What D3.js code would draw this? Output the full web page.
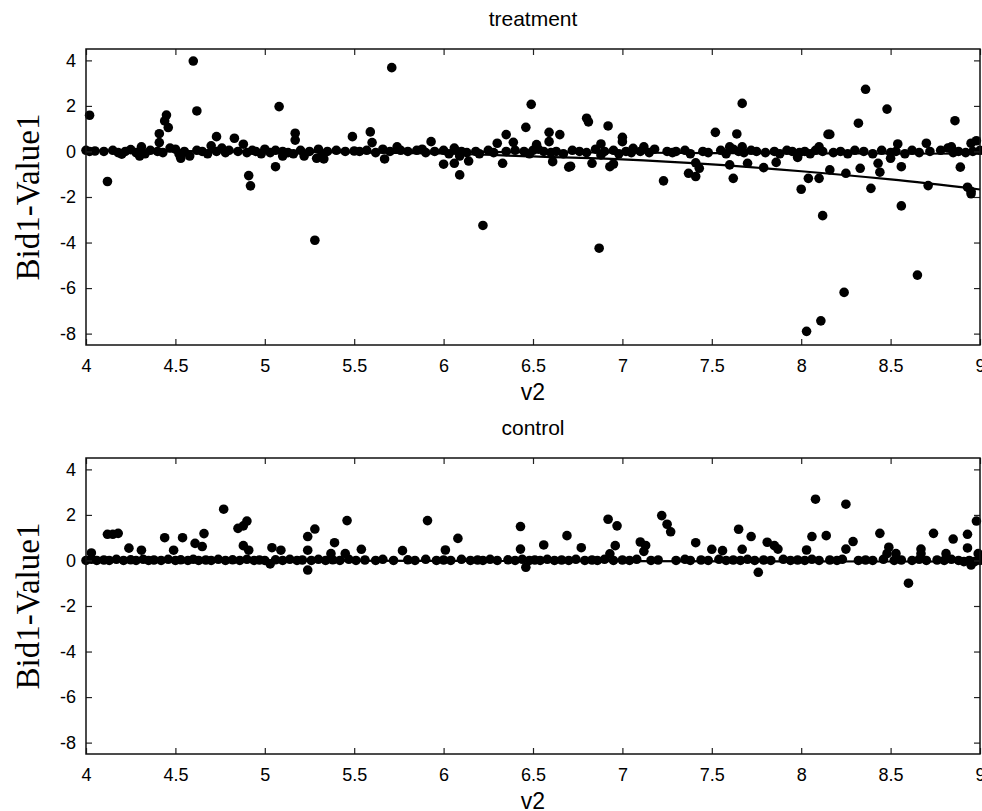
<!DOCTYPE html>
<html>
<head>
<meta charset="utf-8">
<script src="https://cdn.jsdelivr.net/npm/d3@7"></script>
<style>
  html, body { margin: 0; padding: 0; background: #fff; }
  svg { display: block; }
</style>
</head>
<body>
<div id="root"></div>
<script>
// tick values
const xTicks = [4, 4.5, 5, 5.5, 6, 6.5, 7, 7.5, 8, 8.5, 9];
const yTicks = [4, 2, 0, -2, -4, -6, -8];

// treatment: points near zero line
const treatZero = [
  [4.0,0.05],[4.02,0.0],[4.05,0.02],[4.1,0.0],[4.15,0.05],[4.18,-0.05],[4.2,-0.12],[4.22,0.0],
  [4.25,0.08],[4.28,-0.05],[4.31,0.2],[4.33,-0.1],[4.36,0.05],[4.4,0.0],[4.43,-0.05],[4.47,0.15],
  [4.5,0.1],[4.52,-0.1],[4.55,0.0],[4.58,-0.2],[4.62,0.05],[4.65,0.0],[4.68,-0.1],[4.7,0.25],
  [4.73,0.0],[4.76,0.15],[4.78,-0.05],[4.8,0.05],[4.85,0.0],[4.9,-0.05],[4.93,0.05],[4.95,0.0],
  [4.98,-0.1],[5.0,0.1],[5.03,-0.05],[5.06,0.05],[5.1,0.0],[5.13,-0.05],[5.16,-0.1],[5.2,0.05],
  [5.22,-0.2],[5.25,0.0],[5.3,0.1],[5.32,-0.15],[5.35,0.0],[5.4,0.05],[5.45,0.0],[5.5,0.02],
  [5.53,0.0],[5.57,0.05],[5.62,-0.05],[5.66,0.1],[5.7,0.0],[5.76,0.05],[5.8,0.0],[5.85,0.05],
  [5.9,-0.05],[5.95,0.0],[6.0,0.05],[6.03,-0.1],[6.1,0.0],[6.13,-0.05],[6.18,0.0],[6.2,-0.1],
  [6.25,0.05],[6.28,-0.05],[6.35,0.0],[6.4,0.05],[6.45,0.0],[6.48,-0.1],[6.5,0.05],[6.53,0.1],
  [6.56,0.0],[6.6,-0.05],[6.63,0.0],[6.67,-0.1],[6.72,0.05],[6.76,0.0],[6.8,-0.05],[6.85,0.1],
  [6.88,-0.15],[6.9,0.0],[6.95,0.05],[6.98,-0.1],[7.02,0.0],[7.05,-0.05],[7.1,0.0],[7.15,-0.05],
  [7.18,0.1],[7.25,0.0],[7.28,-0.05],[7.3,0.0],[7.35,0.05],[7.38,-0.1],[7.45,0.0],[7.48,-0.05],
  [7.55,0.05],[7.58,-0.1],[7.62,0.1],[7.65,0.0],[7.68,-0.05],[7.72,0.05],[7.75,0.0],[7.8,-0.05],
  [7.85,0.0],[7.88,-0.1],[7.92,0.05],[7.95,0.0],[7.99,-0.05],[8.02,0.0],[8.05,-0.1],[8.08,0.05],
  [8.12,0.0],[8.18,-0.05],[8.22,0.0],[8.26,-0.1],[8.3,0.05],[8.35,0.0],[8.4,-0.1],[8.45,0.05],
  [8.5,-0.05],[8.53,0.0],[8.58,-0.1],[8.62,0.05],[8.66,-0.05],[8.72,0.0],[8.78,0.05],[8.82,0.15],
  [8.85,-0.05],[8.88,0.0],[8.92,-0.05],[8.96,0.0],[9.0,0.05]
];

// treatment: scattered points
const treatSpread = [
  [4.60,3.97],[4.02,1.59],[4.62,1.78],[5.08,1.97],[4.45,1.6],[4.44,1.34],[4.46,1.05],[4.41,0.78],
  [4.41,0.39],[4.12,-1.32],[4.73,0.65],[4.83,0.58],[4.88,0.32],[4.91,-1.06],[4.92,-1.51],[5.06,-0.67],
  [5.17,0.8],[5.17,0.5],[5.49,0.65],[5.59,0.86],[5.60,0.39],[5.28,-3.9],[4.53,-0.3],[5.33,-0.33],
  [5.29,-0.3],[5.10,-0.2],[4.30,-0.2],
  [5.71,3.68],[6.49,2.07],[6.80,1.46],[6.81,1.3],[6.92,1.12],[6.46,1.06],[6.35,0.74],[6.39,0.4],
  [6.59,0.84],[6.59,0.43],[6.65,0.74],[7.0,0.62],[7.0,0.43],[6.88,0.33],[5.93,0.43],[6.30,0.36],
  [6.52,0.3],[7.06,0.14],[7.12,0.2],[5.67,-0.33],[6.0,-0.56],[6.06,-0.52],[6.14,-0.42],[6.09,-1.03],
  [6.33,-0.52],[6.22,-3.25],[6.61,-0.45],[6.70,-0.69],[6.71,-0.65],[6.83,-0.52],[6.93,-0.67],
  [6.95,-0.55],[7.23,-1.29],[6.09,-0.2],[5.74,0.2],[5.88,0.1],[6.06,0.15],[6.87,-4.25],
  [8.36,2.73],[7.67,2.11],[8.48,1.86],[8.86,1.35],[8.32,1.24],[7.52,0.84],[7.64,0.77],[8.15,0.75],
  [8.16,0.75],[8.54,0.33],[8.70,0.36],[8.98,0.47],[8.95,0.36],[8.84,0.2],[7.6,0.2],[7.67,0.2],
  [8.1,0.2],[7.37,-0.96],[7.41,-1.1],[7.43,-0.74],[7.41,-0.5],[7.60,-0.59],[7.62,-1.18],[7.70,-0.52],
  [7.79,-0.71],[7.86,-0.48],[7.98,-0.26],[8.0,-1.66],[8.04,-1.18],[8.10,-1.18],[8.12,-2.82],
  [8.16,-0.81],[8.25,-0.96],[8.33,-0.74],[8.39,-1.62],[8.43,-0.52],[8.44,-0.91],[8.5,-0.3],
  [8.56,-0.67],[8.56,-2.39],[8.71,-1.5],[8.89,-0.69],[8.93,-1.57],[8.95,-1.86],[8.95,-1.75],
  [8.65,-5.43],[8.24,-6.19],[8.11,-7.44],[8.03,-7.9]
];

// treatment fit lines
const treatFitX = [4, 4.5, 5, 5.5, 6, 6.5, 7, 7.5, 8, 8.5, 9];
const treatFitFlat = [0.03, 0.02, 0.0, -0.01, -0.02, -0.03, -0.05, -0.07, -0.08, -0.09, -0.1];
const treatFitBend = [0.03, 0.01, -0.01, -0.04, -0.09, -0.22, -0.35, -0.57, -0.87, -1.23, -1.67];

// control: points near zero line
const ctrlZero = [
  [4.0,0.0],[4.03,0.05],[4.06,0.0],[4.1,0.02],[4.13,0.0],[4.17,0.05],[4.21,0.0],[4.25,0.03],
  [4.28,0.0],[4.32,0.05],[4.35,0.0],[4.38,0.02],[4.42,0.0],[4.46,0.05],[4.5,0.0],[4.53,0.03],
  [4.57,0.0],[4.6,0.05],[4.63,0.0],[4.67,0.02],[4.7,0.0],[4.74,0.05],[4.78,0.0],[4.82,0.03],
  [4.86,0.0],[4.9,0.05],[4.94,0.0],[4.97,0.02],[5.0,0.0],[5.06,0.03],[5.1,0.0],[5.14,0.05],
  [5.18,0.0],[5.21,0.02],[5.26,0.0],[5.3,0.05],[5.34,0.0],[5.38,0.03],[5.42,0.0],[5.47,0.05],
  [5.51,0.0],[5.56,0.02],[5.62,0.0],[5.66,0.05],[5.72,0.0],[5.8,0.03],[5.84,0.0],[5.9,0.05],
  [5.96,0.0],[6.0,0.02],[6.04,0.0],[6.1,0.05],[6.15,0.0],[6.19,0.02],[6.22,0.0],[6.26,0.05],
  [6.3,0.0],[6.36,0.03],[6.4,0.0],[6.44,0.05],[6.48,0.0],[6.51,0.02],[6.54,0.0],[6.58,0.05],
  [6.62,0.0],[6.66,0.02],[6.7,0.0],[6.74,0.05],[6.79,0.0],[6.83,0.02],[6.86,0.0],[6.9,0.05],
  [6.95,0.0],[7.0,0.02],[7.04,0.0],[7.08,0.05],[7.16,0.0],[7.2,0.02],[7.3,0.0],[7.35,0.05],
  [7.38,0.0],[7.44,0.02],[7.48,0.0],[7.54,0.05],[7.58,0.0],[7.62,0.02],[7.66,0.0],[7.7,0.05],
  [7.74,0.0],[7.79,0.02],[7.83,0.0],[7.9,0.05],[7.94,0.0],[7.98,0.02],[8.02,0.0],[8.06,0.05],
  [8.1,0.0],[8.16,0.02],[8.2,0.0],[8.23,0.05],[8.32,0.0],[8.36,0.02],[8.4,0.0],[8.46,0.05],
  [8.52,0.0],[8.56,0.02],[8.62,0.0],[8.66,0.05],[8.7,0.0],[8.76,0.02],[8.8,0.0],[8.84,0.05],
  [8.88,0.0],[8.91,-0.05],[8.94,0.0],[8.97,-0.05],[9.0,0.0]
];

// control: scattered points
const ctrlSpread = [
  [4.77,2.25],[5.46,1.75],[4.90,1.73],[4.88,1.52],[4.85,1.41],[5.28,1.38],[4.12,1.15],[4.15,1.15],
  [4.18,1.19],[5.24,1.05],[4.66,1.18],[4.44,1.0],[4.54,1.0],[4.61,0.75],[4.65,0.61],[4.88,0.65],
  [4.91,0.45],[5.39,0.78],[5.54,0.49],[4.24,0.54],[4.31,0.45],[4.49,0.45],[5.04,0.56],[5.09,0.45],
  [5.24,0.45],[5.37,0.3],[5.45,0.3],[5.24,-0.42],[5.03,-0.15],[4.03,0.33],
  [5.91,1.75],[6.08,0.97],[6.01,0.46],[6.43,1.49],[6.43,0.5],[6.46,-0.3],[6.56,0.68],[6.69,1.09],
  [6.77,0.56],[6.92,1.81],[6.97,1.52],[6.96,0.65],[6.93,0.29],[7.10,0.81],[7.13,0.66],[7.12,0.4],
  [7.22,1.97],[7.25,1.59],[7.27,1.26],[5.77,0.43],
  [7.41,0.78],[7.50,0.49],[7.56,0.43],[7.65,1.37],[7.72,1.05],[7.67,0.49],[7.81,0.8],[7.85,0.65],
  [7.87,0.5],[7.76,-0.52],[8.03,0.46],[8.06,1.05],[8.08,2.69],[8.14,1.09],[8.25,2.47],[8.29,0.83],
  [8.25,0.5],[8.44,1.19],[8.49,0.58],[8.48,0.3],[8.53,0.3],[8.60,-1.0],[8.67,0.5],[8.67,0.3],
  [8.74,1.19],[8.85,0.94],[8.93,1.15],[8.93,0.55],[8.98,1.73],[8.99,0.3],[8.95,-0.2],[8.81,0.3]
];

// control fit line
const ctrlFitX = [4, 5, 6, 7, 8, 9];
const ctrlFit = [0.0, -0.01, -0.02, -0.03, -0.04, -0.05];

const width = 982;
const height = 811;

const svg = d3.select("#root")
  .append("svg")
  .attr("width", width)
  .attr("height", height)
  .attr("viewBox", `0 0 ${width} ${height}`);

const panels = [
  {
    title: "treatment", top: 49, bottom: 345,
    points: treatZero.concat(treatSpread),
    fits: [treatFitX.map((x, i) => [x, treatFitFlat[i]]), treatFitX.map((x, i) => [x, treatFitBend[i]])]
  },
  {
    title: "control", top: 458, bottom: 754,
    points: ctrlZero.concat(ctrlSpread),
    fits: [ctrlFitX.map((x, i) => [x, ctrlFit[i]])]
  }
];

const left = 86;
const right = 980;
const sans = "'Liberation Sans', Arial, sans-serif";

panels.forEach(drawPanel);

function drawPanel(p) {
  const x = d3.scaleLinear().domain([4, 9]).range([left, right]);
  const y = d3.scaleLinear().domain([-8.5, 4.5]).range([p.bottom, p.top]);
  const g = svg.append("g");

  // fit lines
  const line = d3.line().x((d) => x(d[0])).y((d) => y(d[1])).curve(d3.curveMonotoneX);
  g.selectAll("path.fit")
    .data(p.fits)
    .join("path")
    .attr("class", "fit")
    .attr("d", line)
    .attr("fill", "none")
    .attr("stroke", "#000")
    .attr("stroke-width", 2.2);

  // points
  g.selectAll("circle")
    .data(p.points)
    .join("circle")
    .attr("cx", (d) => x(d[0]))
    .attr("cy", (d) => y(d[1]))
    .attr("r", 4.8)
    .attr("fill", "#000");

  // axes, ticks pointing inward
  const tick = 6;
  const axB = g.append("g").attr("transform", `translate(0,${p.bottom})`)
    .call(d3.axisBottom(x).tickValues(xTicks).tickSizeInner(-tick).tickSizeOuter(0).tickPadding(14).tickFormat(d3.format("")));
  const axT = g.append("g").attr("transform", `translate(0,${p.top})`)
    .call(d3.axisTop(x).tickValues(xTicks).tickSizeInner(-tick).tickSizeOuter(0).tickFormat(""));
  const axL = g.append("g").attr("transform", `translate(${left},0)`)
    .call(d3.axisLeft(y).tickValues(yTicks).tickSizeInner(-tick).tickSizeOuter(0).tickPadding(10).tickFormat(d3.format("")));
  const axR = g.append("g").attr("transform", `translate(${right},0)`)
    .call(d3.axisRight(y).tickValues(yTicks).tickSizeInner(-tick).tickSizeOuter(0).tickFormat(""));

  [axB, axT, axL, axR].forEach((a) => {
    a.select(".domain").remove();
    a.selectAll(".tick line").attr("stroke", "#222").attr("stroke-width", 1.2);
    a.selectAll("text").attr("font-family", sans).attr("font-size", 18).attr("fill", "#000");
  });
  axL.selectAll("text").text((d) => (d < 0 ? "-" + Math.abs(d) : d));

  // box
  g.append("rect")
    .attr("x", left)
    .attr("y", p.top)
    .attr("width", right - left)
    .attr("height", p.bottom - p.top)
    .attr("fill", "none")
    .attr("stroke", "#111")
    .attr("stroke-width", 1.5);

  // title
  g.append("text")
    .text(p.title)
    .attr("x", (left + right) / 2)
    .attr("y", p.top - 23)
    .attr("text-anchor", "middle")
    .attr("font-family", sans)
    .attr("font-size", 21)
    .attr("fill", "#000");

  // x label
  g.append("text")
    .text("v2")
    .attr("x", (left + right) / 2)
    .attr("y", p.bottom + 55)
    .attr("text-anchor", "middle")
    .attr("font-family", sans)
    .attr("font-size", 23)
    .attr("fill", "#000");

  // y label
  g.append("text")
    .text("Bid1-Value1")
    .attr("transform", `translate(39,${(p.top + p.bottom) / 2}) rotate(-90)`)
    .attr("text-anchor", "middle")
    .attr("font-family", "'Liberation Serif', 'Times New Roman', serif")
    .attr("font-size", 33)
    .attr("fill", "#000");
}
</script>
</body>
</html>
